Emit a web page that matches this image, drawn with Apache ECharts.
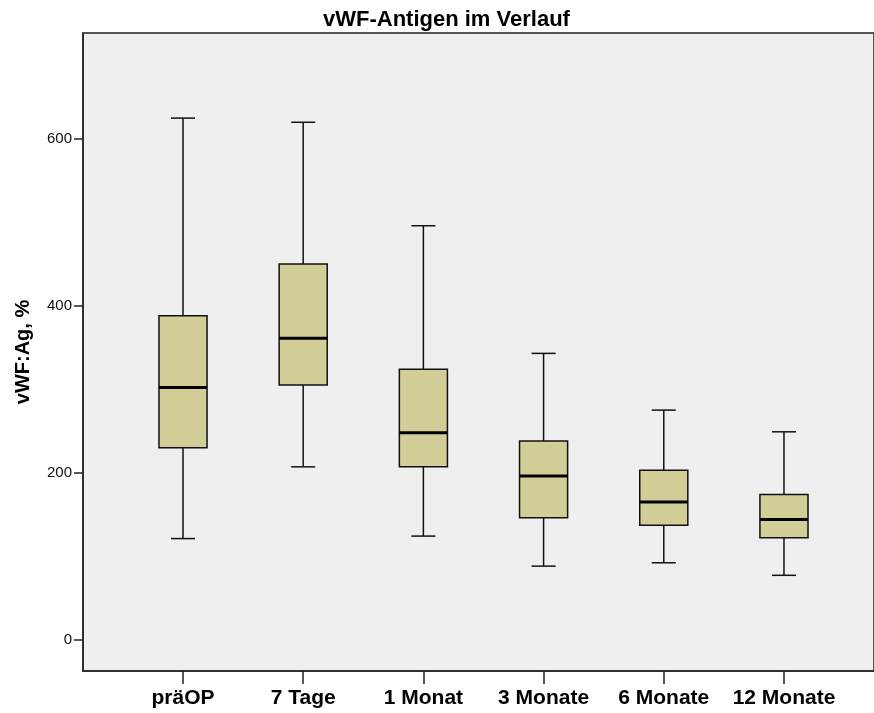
<!DOCTYPE html>
<html>
<head>
<meta charset="utf-8">
<script src="https://cdn.jsdelivr.net/npm/echarts@6/dist/echarts.min.js"></script>
<style>
  html, body { margin: 0; padding: 0; background: #ffffff; }
  #chart { width: 874px; height: 713px; }
</style>
</head>
<body>
<div id="chart"></div>
<script>
// vWF antigen over time: five-number summaries per time point
const categories = ['präOP', '7 Tage', '1 Monat', '3 Monate', '6 Monate', '12 Monate'];
const whiskerLow  = [121, 207, 124,  88,  92,  77];
const quartile1   = [230, 305, 207, 146, 137, 122];
const medians     = [302, 361, 248, 196, 165, 144];
const quartile3   = [388, 450, 324, 238, 203, 174];
const whiskerHigh = [625, 620, 496, 343, 275, 249];
const yTicks = [0, 200, 400, 600];

const FONT = '"Liberation Sans", Arial, sans-serif';
const BOX_HALF = 0.2;   // half box width in category units
const CAP_HALF = 0.1;   // half whisker-cap width in category units

const seriesData = categories.map((c, i) => [i, whiskerLow[i], quartile1[i], medians[i], quartile3[i], whiskerHigh[i]]);

function renderItem(params, api) {
  const i = api.value(0);
  const pLow = api.coord([i, api.value(1)]);
  const pQ1 = api.coord([i, api.value(2)]);
  const pMed = api.coord([i, api.value(3)]);
  const pQ3 = api.coord([i, api.value(4)]);
  const pHigh = api.coord([i, api.value(5)]);
  const bl = api.coord([i - BOX_HALF, 0])[0];
  const br = api.coord([i + BOX_HALF, 0])[0];
  const cl = api.coord([i - CAP_HALF, 0])[0];
  const cr = api.coord([i + CAP_HALF, 0])[0];
  const cx = pMed[0];
  const lineStyle = { stroke: '#111111', lineWidth: 1.5 };
  return {
    type: 'group',
    children: [
      { type: 'line', shape: { x1: cx, y1: pHigh[1], x2: cx, y2: pQ3[1] }, style: lineStyle },
      { type: 'line', shape: { x1: cx, y1: pQ1[1], x2: cx, y2: pLow[1] }, style: lineStyle },
      { type: 'line', shape: { x1: cl, y1: pHigh[1], x2: cr, y2: pHigh[1] }, style: lineStyle },
      { type: 'line', shape: { x1: cl, y1: pLow[1], x2: cr, y2: pLow[1] }, style: lineStyle },
      { type: 'rect', shape: { x: bl, y: pQ3[1], width: br - bl, height: pQ1[1] - pQ3[1] },
        style: { fill: '#d3ce98', stroke: '#111111', lineWidth: 1.5 } },
      { type: 'line', shape: { x1: bl, y1: pMed[1], x2: br, y2: pMed[1] },
        style: { stroke: '#000000', lineWidth: 3 } }
    ]
  };
}

const chart = echarts.init(document.getElementById('chart'), null, { renderer: 'canvas' });
chart.setOption({
  animation: false,
  backgroundColor: '#ffffff',
  title: {
    text: 'vWF-Antigen im Verlauf',
    left: 318,
    top: 4,
    textStyle: { fontFamily: FONT, fontWeight: 'bold', fontSize: 22, color: '#000000' }
  },
  grid: {
    left: 83, top: 33, right: 0, bottom: 42,
    show: true, backgroundColor: '#efefef', borderColor: '#222222', borderWidth: 1.5,
    containLabel: false
  },
  xAxis: {
    type: 'value',
    min: -0.832,
    max: 5.749,
    axisLine: { show: true, onZero: false, lineStyle: { color: '#222222', width: 1.5 } },
    axisTick: { show: true, length: 13, customValues: categories.map((c, i) => i), lineStyle: { color: '#222222', width: 1.5 } },
    axisLabel: {
      customValues: categories.map((c, i) => i),
      formatter: v => categories[Math.round(v)],
      margin: 17,
      fontFamily: FONT, fontWeight: 'bold', fontSize: 21, color: '#000000'
    },
    splitLine: { show: false }
  },
  yAxis: {
    type: 'value',
    min: -37.7,
    max: 727,
    name: 'vWF:Ag, %',
    nameLocation: 'middle',
    nameGap: 50,
    nameTextStyle: { fontFamily: FONT, fontWeight: 'bold', fontSize: 20, color: '#000000' },
    axisLine: { show: true, onZero: false, lineStyle: { color: '#222222', width: 1.5 } },
    axisTick: { show: true, length: 9, customValues: yTicks, lineStyle: { color: '#222222', width: 1.5 } },
    axisLabel: {
      customValues: yTicks,
      margin: 11,
      fontFamily: FONT, fontSize: 15, color: '#111111'
    },
    splitLine: { show: false }
  },
  series: [{
    type: 'custom',
    renderItem: renderItem,
    encode: { x: 0, y: [1, 2, 3, 4, 5] },
    data: seriesData,
    clip: true
  }]
});
</script>
</body>
</html>
